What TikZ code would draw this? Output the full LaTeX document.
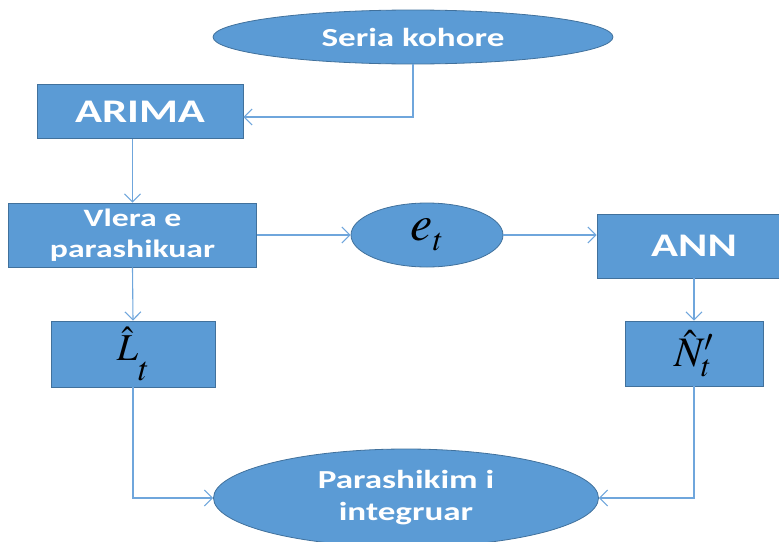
\documentclass[tikz,border=0pt]{standalone}
\usepackage{mathptmx}
\usepackage{fontspec}
\newfontfamily\lbl[FakeStretch=1.35]{Carlito}
\usetikzlibrary{shapes.geometric,arrows.meta,calc}

\definecolor{boxfill}{HTML}{5B9BD5}
\definecolor{boxline}{HTML}{41719C}
\definecolor{wire}{HTML}{6FA6DC}

\tikzset{
  block/.style={rectangle, draw=boxline, fill=boxfill, line width=0.8pt,
    inner sep=0pt, text=white, font=\lbl\bfseries, align=center},
  oval/.style={ellipse, draw=boxline, fill=boxfill, line width=0.8pt,
    inner sep=0pt, text=white, font=\lbl\bfseries, align=center},
  link/.style={draw=wire, line width=1.1pt,
    -{Straight Barb[length=8pt,width=16pt,line width=1.1pt]}},
}

\begin{document}
\begin{tikzpicture}[x=1pt,y=-1pt]
  \useasboundingbox (0,0) rectangle (779,541);

  % nodes
  \node[oval, minimum width=400pt, minimum height=54pt,
        font=\lbl\bfseries\fontsize{26}{28}\selectfont]
        (seria) at (413,37) {Seria kohore};
  \node[block, minimum width=206pt, minimum height=54pt,
        font=\lbl\bfseries\fontsize{33}{35}\selectfont]
        (arima) at (140,111.5) {ARIMA};
  \node[block, minimum width=248pt, minimum height=64pt,
        font=\lbl\bfseries\fontsize{25}{31}\selectfont]
        (vlera) at (132.5,235) {Vlera e\\parashikuar};
  \node[oval, minimum width=152pt, minimum height=64pt, text=black,
        font=\fontsize{50}{52}\selectfont]
        (et) at (427,235) {$e$\raisebox{-10pt}{\fontsize{32}{34}\selectfont$t$}};
  \node[block, minimum width=194pt, minimum height=64pt,
        font=\lbl\bfseries\fontsize{33}{35}\selectfont]
        (ann) at (694,246) {ANN};
  \node[block, minimum width=164pt, minimum height=66pt, text=black,
        font=\fontsize{38}{40}\selectfont]
        (lt) at (133,354) {$\hat{L}$\raisebox{-20pt}{\fontsize{34}{36}\selectfont$t$}};
  \node[block, minimum width=138pt, minimum height=65pt, text=black,
        font=\fontsize{42}{44}\selectfont]
        (nt) at (694,353.5) {$\hat{N}'_{t}$};
  \node[oval, minimum width=385pt, minimum height=98pt,
        font=\lbl\bfseries\fontsize{26}{32}\selectfont]
        (par) at (406,498) {Parashikim i\\integruar};

  % connectors
  \draw[link] (seria.south) |- ($(arima.east)+(0,5.5)$);
  \draw[link] (arima.south -| vlera.north) -- (vlera.north);
  \draw[link] (vlera.east) -- (et.west);
  \draw[link] (et.east) -- (et.east -| ann.west);
  \draw[link] (vlera.south) -- (lt.north);
  \draw[link] (ann.south) -- (nt.north);
  \draw[link] (lt.south) |- (par.west);
  \draw[link] (nt.south) |- (par.east);
\end{tikzpicture}
\end{document}
